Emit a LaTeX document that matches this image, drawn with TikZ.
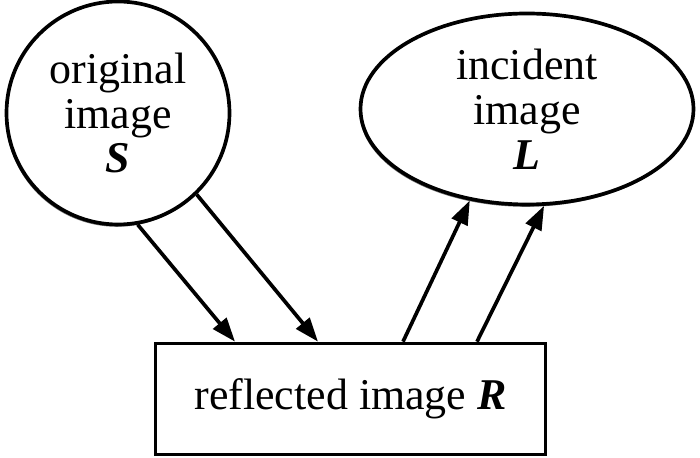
\documentclass[tikz,border=0pt]{standalone}
\usepackage{fontspec}
\setmainfont{Liberation Serif}
\usepackage{tikz}
\usetikzlibrary{calc}
\usetikzlibrary{shapes.geometric}
\usetikzlibrary{shadows}
\usetikzlibrary{arrows.meta}

\begin{document}
\begin{tikzpicture}[
		>={Triangle[length=0.48cm,width=0.34cm]},
		line width=2.1pt,
		imgshape/.style={draw,fill=white,align=center,inner sep=0pt,
			font=\fontsize{25}{25.5}\selectfont,
			drop shadow={shadow xshift=-0.6pt,shadow yshift=-1.3pt,fill=black!55,opacity=1}},
		imgcircle/.style={imgshape,circle,minimum size=4.46cm},
		imgellipse/.style={imgshape,ellipse,minimum width=6.66cm,minimum height=3.82cm},
		imgbox/.style={draw,rectangle,minimum width=7.8cm,minimum height=2.22cm,
			font=\fontsize{25}{25.5}\selectfont}]
			\useasboundingbox (0,0) rectangle (14,-9.16);
			
			\node[imgcircle] (S) at (2.36,-2.26) {original\\image\\\textbf{\textit{S}}};
			\node[imgellipse] (L) at (10.54,-2.18) {incident\\image\\\textbf{\textit{L}}};
			\node[imgbox] (R) at (7.01,-7.98) {reflected image \textbf{\textit{R}}};
			
			\draw[->] (S.-80) to ([xshift=-2.31cm]R.north);
			\draw[->] (S.-46) to ([xshift=-0.65cm]R.north);
			\draw[->] ([xshift=1.05cm]R.north) to (L.-122);
			\draw[->] ([xshift=2.53cm]R.north) to (L.-80);
		\end{tikzpicture}
\end{document}
